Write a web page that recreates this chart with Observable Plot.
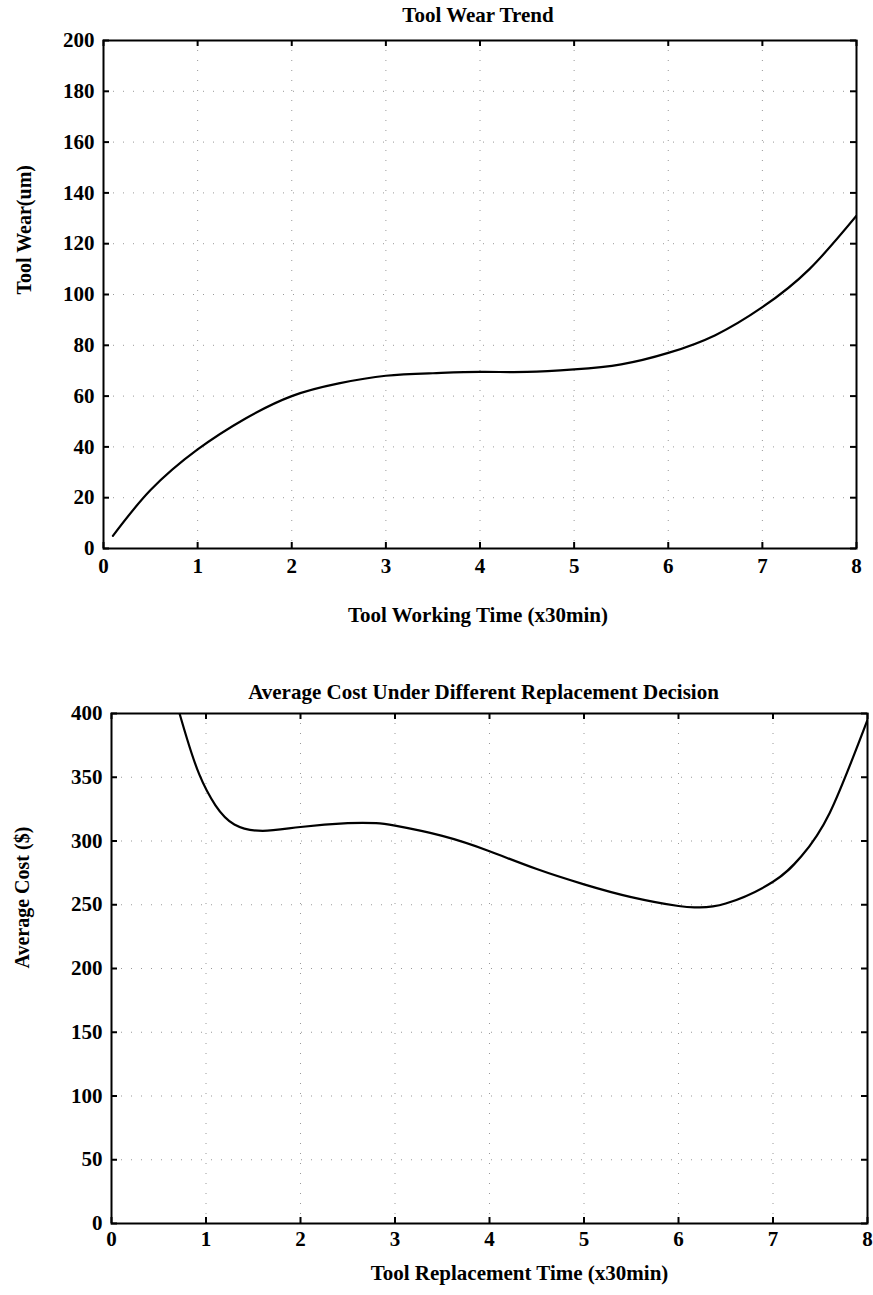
<!DOCTYPE html>
<html>
<head>
<meta charset="utf-8">
<script src="https://cdn.jsdelivr.net/npm/d3@7"></script>
<script src="https://cdn.jsdelivr.net/npm/@observablehq/plot@0.6"></script>
<style>
  html, body { margin: 0; padding: 0; background: #fff; }
  #wrap { position: relative; width: 873px; height: 1295px; overflow: hidden; }
  #top, #bottom { position: absolute; left: 0; }
  #top { top: 0; }
  #bottom { top: 650px; }
  svg text { fill: #000; }
</style>
</head>
<body>
<div id="wrap"><div id="top"></div><div id="bottom"></div></div>
<script>
// Top chart: tool wear trend
const wearTime  = [0.1, 0.5, 1, 1.5, 2, 2.5, 3, 3.5, 4, 4.5, 5, 5.5, 6, 6.5, 7, 7.5, 8];
const wearValue = [5, 23, 39, 51, 60, 65, 68, 69, 69.5, 69.5, 70.5, 72.5, 77, 84, 95, 110, 131];
const wearXTicks = [0, 1, 2, 3, 4, 5, 6, 7, 8];
const wearYTicks = [0, 20, 40, 60, 80, 100, 120, 140, 160, 180, 200];

// Bottom chart: average cost
const costTime  = [0.72, 0.8, 0.93, 1.1, 1.3, 1.6, 2, 2.5, 2.8, 3, 3.5, 4, 4.5, 5, 5.5, 6, 6.2, 6.5, 7, 7.3, 7.6, 8];
const costValue = [400, 380, 352, 328, 313, 308, 311, 314, 314, 312, 304, 292, 278, 266, 256, 249, 248, 251, 268, 288, 322, 395];
const costXTicks = [0, 1, 2, 3, 4, 5, 6, 7, 8];
const costYTicks = [0, 50, 100, 150, 200, 250, 300, 350, 400];

const titles = {
  top: "Tool Wear Trend",
  topX: "Tool Working Time (x30min)",
  topY: "Tool Wear(um)",
  bottom: "Average Cost Under Different Replacement Decision",
  bottomX: "Tool Replacement Time (x30min)",
  bottomY: "Average Cost ($)"
};

const FONT = "'Liberation Serif', 'Times New Roman', serif";

function makeChart(cfg) {
  const rows = cfg.xs.map((x, i) => ({x, y: cfg.ys[i]}));
  const W = 873, H = cfg.height;
  const pw = W - cfg.ml - cfg.mr, ph = H - cfg.mt - cfg.mb;
  const tk = 6;
  return Plot.plot({
    width: W,
    height: H,
    marginLeft: cfg.ml,
    marginRight: cfg.mr,
    marginTop: cfg.mt,
    marginBottom: cfg.mb,
    style: {fontFamily: FONT, fontSize: "21px", fontWeight: "bold", color: "#000", background: "#fff"},
    x: {domain: [0, 8]},
    y: {domain: cfg.yDomain},
    marks: [
      Plot.gridX(cfg.xTicks, {stroke: "#555", strokeOpacity: 0.6, strokeDasharray: "1,9", strokeWidth: 1}),
      Plot.gridY(cfg.yTicks, {stroke: "#555", strokeOpacity: 0.6, strokeDasharray: "1,9", strokeWidth: 1}),
      Plot.axisX(cfg.xTicks, {anchor: "bottom", tickSize: 0, tickPadding: cfg.xPad, label: null, fontSize: 21, fontWeight: "bold"}),
      Plot.axisY(cfg.yTicks, {anchor: "left", tickSize: 0, tickPadding: cfg.yPad, label: null, fontSize: 21, fontWeight: "bold"}),
      // inward ticks on all four sides
      Plot.tickX(cfg.xTicks, {x: d => d, insetTop: ph - tk, stroke: "#000", strokeWidth: 2}),
      Plot.tickX(cfg.xTicks, {x: d => d, insetBottom: ph - tk, stroke: "#000", strokeWidth: 2}),
      Plot.tickY(cfg.yTicks, {y: d => d, insetRight: pw - tk, stroke: "#000", strokeWidth: 2}),
      Plot.tickY(cfg.yTicks, {y: d => d, insetLeft: pw - tk, stroke: "#000", strokeWidth: 2}),
      Plot.line(rows, {x: "x", y: "y", curve: "natural", stroke: "#000", strokeWidth: 2.2, clip: true}),
      Plot.frame({stroke: "#000", strokeWidth: 2}),
      Plot.text([cfg.title], {text: d => d, frameAnchor: "top", dy: cfg.titleDy, lineAnchor: "middle", fontSize: 21, fontWeight: "bold", dx: cfg.titleDx}),
      Plot.text([cfg.xLabel], {text: d => d, frameAnchor: "bottom", dy: cfg.xLabelDy, lineAnchor: "middle", fontSize: 21, fontWeight: "bold", dx: cfg.xLabelDx}),
      Plot.text([cfg.yLabel], {text: d => d, frameAnchor: "left", dx: cfg.yLabelDx, rotate: -90, lineAnchor: "middle", fontSize: 20, fontWeight: "bold"})
    ]
  });
}

document.getElementById("top").append(makeChart({
  xs: wearTime, ys: wearValue, xTicks: wearXTicks, yTicks: wearYTicks, yDomain: [0, 200],
  height: 650, ml: 103, mr: 17, mt: 40, mb: 102,
  xPad: 10, yPad: 9,
  title: titles.top, titleDy: -25, titleDx: -2,
  xLabel: titles.topX, xLabelDy: 67, xLabelDx: -2,
  yLabel: titles.topY, yLabelDx: -79
}));

document.getElementById("bottom").append(makeChart({
  xs: costTime, ys: costValue, xTicks: costXTicks, yTicks: costYTicks, yDomain: [0, 400],
  height: 645, ml: 111, mr: 6, mt: 63, mb: 72,
  xPad: 8, yPad: 9,
  title: titles.bottom, titleDy: -21, titleDx: -6,
  xLabel: titles.bottomX, xLabelDy: 50, xLabelDx: 30,
  yLabel: titles.bottomY, yLabelDx: -89
}));
</script>
</body>
</html>
